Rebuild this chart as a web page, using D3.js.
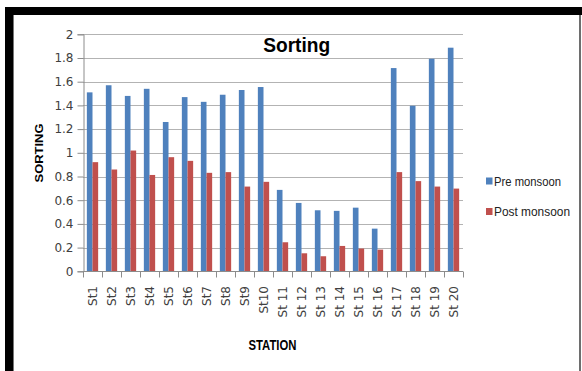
<!DOCTYPE html>
<html>
<head>
<meta charset="utf-8">
<script src="https://cdn.jsdelivr.net/npm/d3@7"></script>
<style>
  html, body { margin: 0; padding: 0; background: #fff; }
  svg { display: block; }
</style>
</head>
<body>
<svg id="chart" width="582" height="371"></svg>
<script>
const categories = ["St1","St2","St3","St4","St5","St6","St7","St8","St9","St10",
  "St 11","St 12","St 13","St 14","St 15","St 16","St 17","St 18","St 19","St 20"];
const preMonsoon  = [1.51,1.57,1.48,1.54,1.26,1.47,1.43,1.49,1.53,1.555,
  0.687,0.577,0.515,0.51,0.537,0.36,1.715,1.397,1.794,1.887];
const postMonsoon = [0.921,0.859,1.019,0.813,0.963,0.932,0.831,0.837,0.715,0.755,
  0.245,0.152,0.127,0.214,0.192,0.183,0.837,0.761,0.715,0.698];
const seriesNames = ["Pre monsoon","Post monsoon"];
const yTicks = [0,0.2,0.4,0.6,0.8,1,1.2,1.4,1.6,1.8,2];
const colors = ["#4F81BD","#C0504D"];

const svg = d3.select("#chart");

// frame
svg.append("rect").attr("x",0).attr("y",0).attr("width",582).attr("height",371).attr("fill","#fff");
svg.append("rect").attr("x",579).attr("y",7).attr("width",2).attr("height",364).attr("fill","#6e6e6e");
svg.append("rect").attr("x",5).attr("y",7).attr("width",577).attr("height",8).attr("fill","#000");
svg.append("rect").attr("x",5).attr("y",7).attr("width",8).attr("height",364).attr("fill","#000");
svg.append("rect").attr("x",13).attr("y",15).attr("width",1).attr("height",356).attr("fill","#777");

const plotLeft = 83, plotRight = 463, plotTop = 34.3, plotBottom = 271.3;
const x = d3.scaleBand().domain(categories).range([plotLeft, plotRight]).padding(0);
const step = x.step();
const gapHalf = 3.85;
const xs = d3.scaleBand().domain(seriesNames).range([gapHalf, step - gapHalf]).padding(0);
const y = d3.scaleLinear().domain([0, 2]).range([plotBottom, plotTop]);

// gridlines
svg.append("g").selectAll("line").data(yTicks.filter(t => t > 0)).join("line")
  .attr("x1", plotLeft).attr("x2", plotRight)
  .attr("y1", d => Math.round(y(d)) + 0.5).attr("y2", d => Math.round(y(d)) + 0.5)
  .attr("stroke", "#b3b3b3").attr("stroke-width", 1);

// bars
const data = categories.map((c, i) => ({cat: c, vals: [preMonsoon[i], postMonsoon[i]]}));
const groups = svg.append("g").selectAll("g").data(data).join("g")
  .attr("transform", d => `translate(${x(d.cat)},0)`);
groups.selectAll("rect").data(d => d.vals.map((v, j) => ({name: seriesNames[j], v, j}))).join("rect")
  .attr("x", d => xs(d.name))
  .attr("width", xs.bandwidth())
  .attr("y", d => y(d.v))
  .attr("height", d => y(0) - y(d.v))
  .attr("fill", d => colors[d.j]);

// y axis
const yAxis = d3.axisLeft(y).tickValues(yTicks).tickSize(6).tickPadding(4)
  .tickFormat(d => String(+d.toFixed(1)));
const ya = svg.append("g").attr("transform", `translate(${plotLeft + 0.5},0)`).call(yAxis);
ya.select(".domain").attr("stroke", "#8c8c8c");
ya.selectAll(".tick line").attr("stroke", "#8c8c8c");
ya.selectAll(".tick text").attr("font-family", "DejaVu Sans").attr("font-size", 12).attr("fill", "#404040");

// x axis
const xAxis = d3.axisBottom(x).tickSize(0).tickFormat("");
const xa = svg.append("g").attr("transform", `translate(0,${Math.round(plotBottom) + 0.5})`).call(xAxis);
xa.select(".domain").attr("stroke", "#8c8c8c").attr("d", `M${plotLeft},0H${plotRight}`);
xa.selectAll("line.bt").data(d3.range(categories.length + 1)).join("line")
  .attr("class", "bt")
  .attr("x1", i => Math.round(plotLeft + i * step) + 0.5).attr("x2", i => Math.round(plotLeft + i * step) + 0.5)
  .attr("y1", 0).attr("y2", 6).attr("stroke", "#8c8c8c");
svg.append("g").selectAll("text").data(categories).join("text")
  .attr("transform", d => `translate(${x(d) + step / 2 + 4},${286}) rotate(-90)`)
  .attr("text-anchor", "end")
  .attr("font-family", "DejaVu Sans").attr("font-size", 12).attr("fill", "#404040")
  .text(d => d);

// title
svg.append("text").attr("x", 296.7).attr("y", 52).attr("text-anchor", "middle")
  .attr("font-family", "Liberation Sans").attr("font-weight", "bold").attr("font-size", 21)
  .attr("textLength", 67).attr("lengthAdjust", "spacingAndGlyphs")
  .attr("fill", "#000").text("Sorting");

// axis titles
svg.append("text").attr("transform", "translate(43,153) rotate(-90)").attr("text-anchor", "middle")
  .attr("font-family", "Liberation Sans").attr("font-weight", "bold").attr("font-size", 11.5)
  .attr("textLength", 59).attr("lengthAdjust", "spacingAndGlyphs")
  .attr("fill", "#000").text("SORTING");
svg.append("text").attr("x", 272.5).attr("y", 350).attr("text-anchor", "middle")
  .attr("font-family", "Liberation Sans").attr("font-weight", "bold").attr("font-size", 15)
  .attr("textLength", 48).attr("lengthAdjust", "spacingAndGlyphs")
  .attr("fill", "#000").text("STATION");

// legend
const legend = svg.append("g").selectAll("g").data(seriesNames).join("g")
  .attr("transform", (d, i) => `translate(486,${177.5 + i * 30.5})`);
legend.append("rect").attr("x", 0).attr("y", 0).attr("width", 6.5).attr("height", 7)
  .attr("fill", (d, i) => colors[i]);
legend.append("text").attr("x", 8).attr("y", 8)
  .attr("font-family", "Liberation Sans").attr("font-size", 12.5).attr("fill", "#222")
  .attr("textLength", (d, i) => i === 0 ? 67 : 76).attr("lengthAdjust", "spacingAndGlyphs")
  .text(d => d);
</script>
</body>
</html>
